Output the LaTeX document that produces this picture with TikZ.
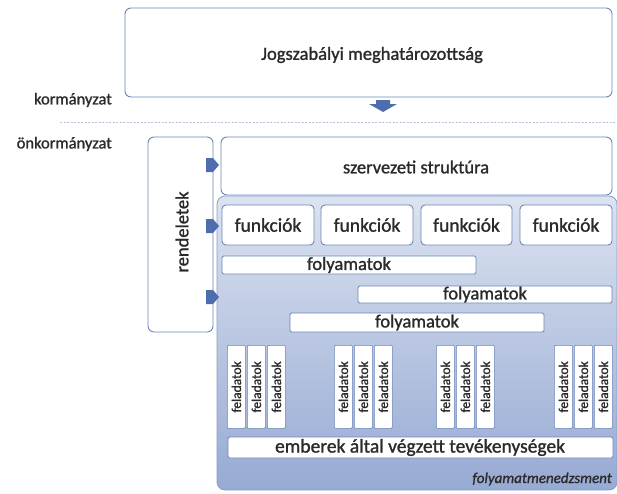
\documentclass[tikz,border=0pt]{standalone}
\usepackage{fontspec}
\setmainfont{Carlito}[FakeBold=1.2]
\definecolor{bordc}{HTML}{6A86B8}
\definecolor{arrc}{HTML}{4E6DAE}
\definecolor{regtop}{HTML}{DCE3F0}
\definecolor{regbot}{HTML}{97AAD3}
\definecolor{txtc}{HTML}{2A2A2A}
\definecolor{dashc}{HTML}{B8C2D6}
\begin{document}
\begin{tikzpicture}[x=1pt,y=-1pt,
  wbox/.style={draw=bordc,line width=0.9pt,fill=white,rounded corners=6pt},
  sbox/.style={draw=bordc,line width=0.8pt,fill=white,rounded corners=1.5pt},
  lbl/.style={text=txtc,font=\fontsize{18.5}{20}\selectfont,inner sep=0pt},
  fel/.style={draw=bordc,line width=0.7pt,fill=white,rounded corners=1pt,minimum width=18pt,minimum height=83pt,inner sep=0pt,anchor=north west},
  blockarr/.style={fill=arrc,draw=none}]
\useasboundingbox (0,0) rectangle (617,493);
% top box
\draw[wbox] (125,8) rectangle (612,97);
\node[lbl] (jog) at (372,55) {Jogszabályi meghatározottság};
% labels
\node[lbl,anchor=east,font=\fontsize{16.5}{19}\selectfont] (korm) at (112,100) {kormányzat};
\node[lbl,anchor=east,font=\fontsize{16.5}{19}\selectfont] (onkorm) at (112,144) {önkormányzat};
% down arrow
\fill[blockarr] (376,100) -- (390,100) -- (390,104) -- (397,104) -- (383,112) -- (369,104) -- (376,104) -- cycle;
% dashed line
\draw[dashc,line width=0.8pt,dash pattern=on 2pt off 1.5pt] (60,122) -- (617,122);
% big region
\draw[draw=bordc!80,line width=0.8pt,top color=regtop,bottom color=regbot,rounded corners=8pt] (217,196) rectangle (617,490);
% rendeletek
\draw[wbox] (148,137) rectangle (213,332);
\node[lbl] [rotate=90] (rend) at (182,232) {rendeletek};
% szervezeti struktura
\draw[wbox] (221,137) rectangle (612,195);
\node[lbl] (szerv) at (416,167) {szervezeti struktúra};
% small arrows
\foreach \yy in {165,226,297}{
  \fill[blockarr] (206,\yy-7) -- (213,\yy-7) -- (219,\yy) -- (213,\yy+7) -- (206,\yy+7) -- cycle;
}
% funkciok
\foreach \xa/\xb/\nm in {222/314/f1,321/413/f2,421/512/f3,520/612/f4}{
  \draw[wbox,rounded corners=4pt] (\xa,205) rectangle (\xb,245);
  \node[lbl,font=\fontsize{19.5}{21}\selectfont] (\nm) at ({(\xa+\xb)/2},225) {funkciók};
}
% folyamatok
\draw[sbox] (222,256) rectangle (476,274);
\node[lbl] (fo1) at (349,265) {folyamatok};
\draw[sbox] (358,286) rectangle (612,303);
\node[lbl] (fo2) at (485,294.5) {folyamatok};
\draw[sbox] (290,313) rectangle (544,332);
\node[lbl] (fo3) at (417,322.5) {folyamatok};
% feladatok
\foreach \xx [count=\i] in {227,247,267,334,354,374,436,456,476,554,574,594}{
  \node[fel] (fe\i) at (\xx,345) {};
  \node[text=txtc,font=\fontsize{13.5}{15}\selectfont,rotate=90,inner sep=0pt] at (fe\i.center) {feladatok};
}
% emberek
\draw[sbox] (228,437) rectangle (613,458);
\node[lbl,font=\fontsize{19.5}{21}\selectfont] (emb) at (420,447.5) {emberek által végzett tevékenységek};
% folyamatmenedzsment
\node[text=txtc,font=\itshape\fontsize{15}{17}\selectfont,anchor=east,inner sep=0pt] (fm) at (612,479) {folyamatmenedzsment};
\end{tikzpicture}
\end{document}
